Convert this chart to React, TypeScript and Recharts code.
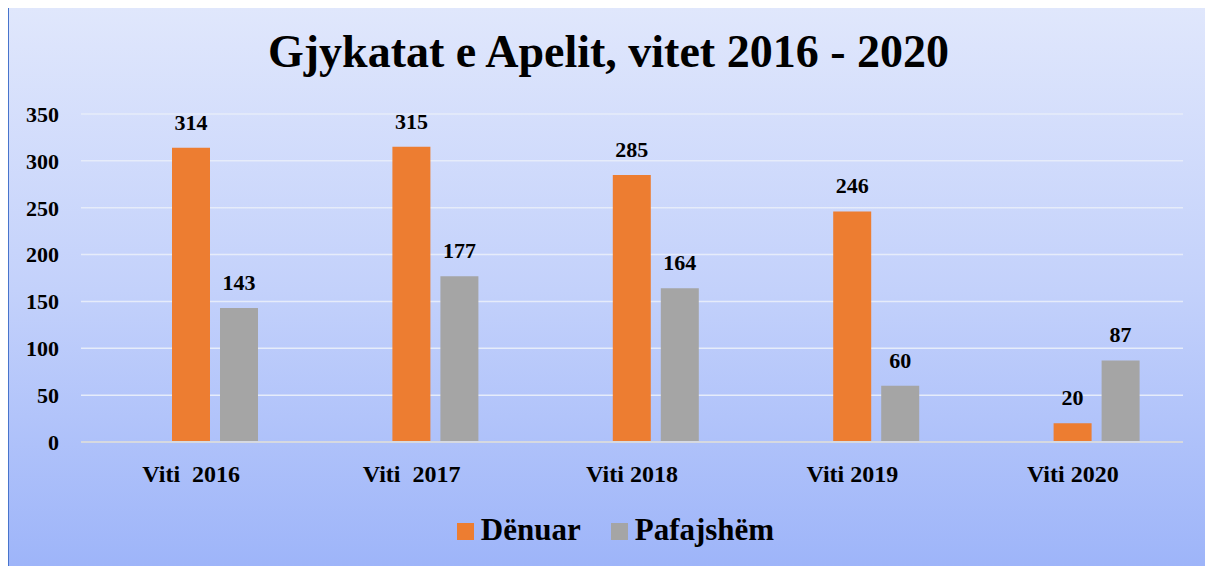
import { BarChart, Bar, XAxis, YAxis, CartesianGrid, LabelList } from "recharts";

const years = ["Viti \u00a02016", "Viti \u00a02017", "Viti 2018", "Viti 2019", "Viti 2020"];
const denuar = [314, 315, 285, 246, 20];
const pafajshem = [143, 177, 164, 60, 87];
const yTicks = [0, 50, 100, 150, 200, 250, 300, 350];
const series = [
  { key: "denuar", name: "Dënuar", color: "#ed7d31" },
  { key: "pafajshem", name: "Pafajshëm", color: "#a5a5a5" },
];

const FONT = "Liberation Serif";

const data = years.map((name, i) => ({
  name,
  denuar: denuar[i],
  pafajshem: pafajshem[i],
}));

export default function App() {
  return (
    <div
      style={{
        margin: -8,
        width: 1213,
        height: 574,
        position: "relative",
        background: "linear-gradient(to bottom, #8eaae6 0%, #a9bdf0 40%, #9fb5ef 100%)",
        overflow: "hidden",
      }}
    >
      <div
        style={{
          position: "absolute",
          left: 7,
          top: 6,
          width: 1206,
          height: 568,
          boxSizing: "border-box",
          border: "2px solid #4874cc",
          background: "linear-gradient(to bottom, #e0e7fc 0%, #c3d1fb 50%, #9db4f9 100%)",
        }}
      />
      <div
        style={{
          position: "absolute",
          left: 7,
          top: 29,
          width: 1203,
          textAlign: "center",
          fontFamily: FONT,
          fontWeight: 700,
          fontSize: 46,
          lineHeight: "45px",
          color: "#000",
        }}
      >
        Gjykatat e Apelit, vitet 2016 - 2020
      </div>
      <BarChart
        width={1213}
        height={574}
        data={data}
        margin={{ top: 114, right: 30, bottom: 102, left: 0 }}
        barSize={38}
        barGap={10}
        style={{ position: "absolute", left: 0, top: 0 }}
      >
        <CartesianGrid vertical={false} stroke="#e6ecfa" strokeWidth={1.5} />
        <XAxis
          dataKey="name"
          height={30}
          tickLine={false}
          axisLine={{ stroke: "#d6d9e0", strokeWidth: 2 }}
          tickMargin={17}
          tick={{ fill: "#000", fontSize: 24, fontWeight: 700, fontFamily: FONT }}
        />
        <YAxis
          width={81}
          domain={[0, 350]}
          ticks={yTicks}
          tickLine={false}
          axisLine={false}
          tickMargin={16}
          tick={{ fill: "#000", fontSize: 22, fontWeight: 700, fontFamily: FONT }}
        />
        <Bar dataKey="spacer" legendType="none" fill="transparent" isAnimationActive={false} />
        {series.map((s) => (
          <Bar key={s.key} dataKey={s.key} name={s.name} fill={s.color} isAnimationActive={false}>
            <LabelList dataKey={s.key} position="top" offset={18} fill="#000" fontSize={22} fontWeight={700} fontFamily={FONT} />
          </Bar>
        ))}
      </BarChart>
      <div
        style={{
          position: "absolute",
          top: 514,
          left: 18,
          width: 1195,
          display: "flex",
          justifyContent: "center",
          alignItems: "center",
          fontFamily: FONT,
        }}
      >
        {series.map((s, i) => (
          <div key={s.key} style={{ display: "flex", alignItems: "center", marginLeft: i ? 30 : 0 }}>
            <span
              style={{ width: 17, height: 17, background: s.color, display: "inline-block", marginRight: 7, transform: "translateY(2px)" }}
            />
            <span style={{ fontSize: 31, fontWeight: 700, lineHeight: "31px", color: "#000" }}>{s.name}</span>
          </div>
        ))}
      </div>
    </div>
  );
}
